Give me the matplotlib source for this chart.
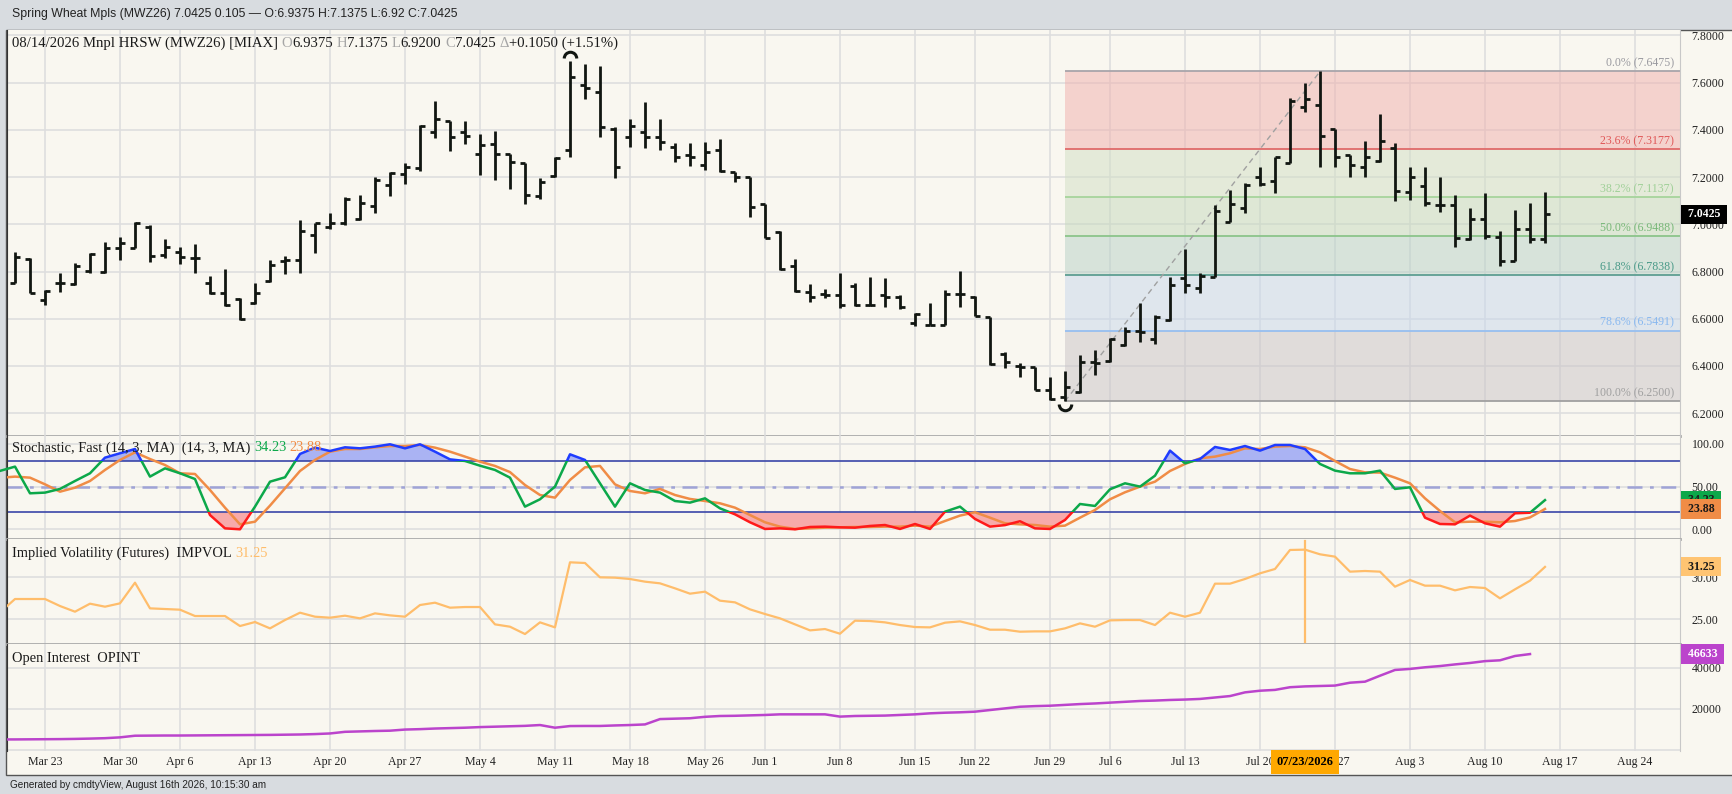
import numpy as np
import pandas as pd
import matplotlib
matplotlib.use("Agg")
import matplotlib.pyplot as plt
import matplotlib.transforms as mtransforms
from matplotlib.collections import LineCollection
from matplotlib.patches import Rectangle
from matplotlib.path import Path

# ---------------- data ----------------
holidays = ["2026-04-03", "2026-05-25", "2026-06-19", "2026-07-03", "2026-09-07"]

# daily bars, Mar 19 .. Aug 14 2026
opens = [6.750, 6.855, 6.679, 6.750, 6.747, 6.802, 6.800, 6.898, 6.898, 6.990,
         6.870, 6.884, 6.856, 6.750, 6.707, 6.682, 6.668, 6.761, 6.846, 6.849,
         6.955, 6.987, 7.007, 7.021, 7.079, 7.166, 7.213, 7.237, 7.392, 7.436,
         7.392, 7.300, 7.340, 7.300, 7.258, 7.120, 7.205, 7.315, 7.590, 7.562,
         7.402, 7.368, 7.392, 7.368, 7.326, 7.293, 7.251, 7.315, 7.223, 7.202,
         7.086, 6.969, 6.823, 6.714, 6.705, 6.700, 6.738, 6.658, 6.700, 6.690,
         6.580, 6.573, 6.573, 6.705, 6.693, 6.606, 6.450, 6.400, 6.397, 6.300,
         6.270, 6.291, 6.418, 6.422, 6.488, 6.549, 6.512, 6.594, 6.771, 6.729,
         6.778, 7.011, 7.068, 7.202, 7.185, 7.261, 7.498, 7.505, 7.402, 7.294,
         7.241, 7.269, 7.322, 7.138, 7.164, 7.082, 7.082, 6.936, 7.021, 6.945,
         6.846, 6.979, 6.9375]
highs = [6.884, 6.856, 6.721, 6.795, 6.834, 6.877, 6.926, 6.947, 7.008, 6.997,
         6.936, 6.905, 6.916, 6.781, 6.809, 6.686, 6.750, 6.849, 6.866, 7.018,
         7.007, 7.046, 7.117, 7.124, 7.202, 7.223, 7.261, 7.421, 7.524, 7.439,
         7.439, 7.382, 7.397, 7.300, 7.261, 7.195, 7.284, 7.693, 7.679, 7.671,
         7.411, 7.445, 7.520, 7.445, 7.346, 7.343, 7.350, 7.360, 7.223, 7.202,
         7.086, 6.973, 6.851, 6.747, 6.724, 6.792, 6.750, 6.775, 6.771, 6.700,
         6.625, 6.665, 6.721, 6.804, 6.697, 6.606, 6.460, 6.414, 6.397, 6.354,
         6.380, 6.446, 6.467, 6.517, 6.566, 6.665, 6.616, 6.778, 6.894, 6.792,
         7.082, 7.145, 7.176, 7.241, 7.286, 7.534, 7.597, 7.6475, 7.402, 7.294,
         7.354, 7.467, 7.346, 7.241, 7.244, 7.200, 7.124, 7.068, 7.134, 6.973,
         7.060, 7.092, 7.1375]
lows = [6.750, 6.707, 6.658, 6.714, 6.743, 6.792, 6.792, 6.849, 6.898, 6.842,
        6.856, 6.832, 6.792, 6.705, 6.654, 6.594, 6.662, 6.757, 6.789, 6.795,
        6.880, 6.979, 6.997, 7.018, 7.046, 7.120, 7.171, 7.227, 7.364, 7.312,
        7.340, 7.209, 7.188, 7.148, 7.086, 7.106, 7.202, 7.284, 7.529, 7.371,
        7.195, 7.329, 7.322, 7.315, 7.265, 7.247, 7.230, 7.223, 7.181, 7.029,
        6.940, 6.806, 6.714, 6.672, 6.686, 6.644, 6.654, 6.654, 6.648, 6.640,
        6.569, 6.573, 6.573, 6.651, 6.611, 6.404, 6.390, 6.354, 6.298, 6.255,
        6.250, 6.284, 6.361, 6.418, 6.484, 6.503, 6.493, 6.592, 6.710, 6.707,
        6.778, 7.010, 7.046, 7.162, 7.134, 7.261, 7.477, 7.244, 7.241, 7.200,
        7.202, 7.265, 7.100, 7.103, 7.079, 7.053, 6.905, 6.933, 6.936, 6.823,
        6.846, 6.922, 6.920]
closes = [6.863, 6.710, 6.718, 6.750, 6.823, 6.874, 6.898, 6.919, 7.004, 6.866,
          6.905, 6.863, 6.856, 6.707, 6.658, 6.597, 6.710, 6.827, 6.849, 6.973,
          7.004, 7.007, 7.106, 7.092, 7.188, 7.219, 7.241, 7.417, 7.446, 7.371,
          7.374, 7.336, 7.300, 7.265, 7.124, 7.181, 7.279, 7.623, 7.576, 7.411,
          7.244, 7.417, 7.368, 7.350, 7.286, 7.286, 7.308, 7.227, 7.200, 7.074,
          6.940, 6.809, 6.718, 6.693, 6.700, 6.658, 6.658, 6.660, 6.690, 6.651,
          6.620, 6.573, 6.705, 6.705, 6.611, 6.408, 6.418, 6.397, 6.300, 6.258,
          6.310, 6.418, 6.411, 6.512, 6.549, 6.545, 6.608, 6.743, 6.743, 6.781,
          7.058, 7.086, 7.166, 7.171, 7.284, 7.524, 7.529, 7.375, 7.284, 7.251,
          7.284, 7.354, 7.142, 7.199, 7.092, 7.082, 6.940, 7.021, 6.950, 6.846,
          6.979, 6.936, 7.0425]

# indicators, Mar 18 .. Aug 14 (first value is the day before the first bar)
stoch_k = [68.4, 73.4, 42.2, 43.0, 47.3, 56.6, 65.6, 83.9, 89.0, 94.0, 61.7,
           71.4, 65.6, 58.9, 16.8, 1.2, 0.1, 26.6, 55.8, 60.9, 88.2,
           95.6, 91.7, 96.0, 94.8, 96.8, 99.5, 94.8, 99.5, 90.9, 81.9,
           80.0, 74.5, 69.5, 60.5, 26.6, 35.2, 50.0, 87.8, 81.2, 53.9,
           26.6, 53.9, 46.1, 43.0, 33.2, 31.3, 36.3, 24.6, 17.6, 8.3,
           0.5, 1.2, 0.1, 2.8, 3.2, 2.4, 2.0, 4.0, 5.1, 0.5,
           6.3, 0.5, 20.7, 26.6, 12.2, 3.2, 5.0, 9.5, 1.2, 0.5,
           11.0, 29.7, 27.4, 46.9, 53.9, 50.0, 62.8, 92.1, 77.3, 82.3,
           96.4, 92.9, 97.5, 92.1, 98.7, 98.7, 94.0, 76.5, 68.7, 65.6,
           65.6, 68.7, 47.3, 49.2, 13.7, 6.3, 5.9, 16.1, 7.1, 3.2,
           18.8, 19.5, 34.23]
stoch_d = [60.3, 61.7, 60.5, 52.7, 44.1, 48.8, 56.6, 69.5, 81.2, 90.1, 82.3,
           75.3, 65.6, 64.8, 46.1, 25.4, 5.9, 9.0, 27.8, 48.0, 68.3,
           81.2, 90.9, 94.0, 94.0, 96.0, 97.5, 97.5, 98.7, 95.6, 90.9,
           85.1, 79.2, 74.2, 67.0, 51.9, 40.2, 37.1, 57.8, 72.6, 74.2,
           52.7, 44.9, 42.2, 47.3, 40.2, 35.6, 33.2, 30.5, 25.4, 16.8,
           8.3, 3.2, 0.5, 1.2, 2.0, 2.4, 2.8, 2.8, 3.2, 3.2,
           4.4, 3.2, 9.8, 16.1, 20.0, 13.7, 7.1, 5.9, 5.1, 3.2,
           4.4, 13.7, 22.7, 35.2, 43.4, 50.0, 55.8, 68.3, 76.5, 83.1,
           85.1, 89.0, 94.8, 94.0, 96.8, 97.5, 96.0, 90.1, 80.0, 70.6,
           66.7, 66.4, 60.5, 53.9, 36.3, 21.5, 8.3, 9.0, 9.0, 8.3,
           9.8, 14.0, 23.88]
impvol = [25.80, 27.40, 27.40, 27.40, 26.56, 25.88, 26.84, 26.48, 26.88, 29.36, 26.28,
          26.20, 26.12, 25.36, 25.36, 25.36, 24.16, 24.64, 23.88, 24.88, 25.76,
          25.28, 25.16, 25.40, 25.08, 25.68, 25.44, 25.28, 26.68, 26.96, 26.36,
          26.44, 26.44, 24.36, 24.08, 23.20, 24.60, 24.00, 31.80, 31.72, 30.00,
          29.96, 29.80, 29.48, 29.28, 28.68, 28.04, 28.28, 27.20, 27.00, 26.16,
          25.60, 25.08, 24.36, 23.64, 23.80, 23.24, 24.80, 24.76, 24.60, 24.28,
          24.04, 24.00, 24.56, 24.72, 24.28, 23.72, 23.72, 23.48, 23.52, 23.52,
          23.88, 24.48, 24.08, 24.84, 24.88, 24.88, 24.28, 25.76, 25.28, 25.76,
          29.24, 29.24, 29.80, 30.48, 31.00, 33.28, 33.32, 32.76, 32.48, 30.68,
          30.76, 30.68, 28.88, 29.68, 29.00, 29.00, 28.44, 28.84, 28.72, 27.48,
          28.56, 29.60, 31.25]
# open interest, Mar 18 .. Aug 13
open_int = [5100, 5100, 5150, 5200, 5250, 5350, 5500, 5700, 6100, 6900, 6950,
            7000, 7000, 7050, 7100, 7150, 7200, 7250, 7300, 7400, 7500,
            7700, 8000, 8800, 9000, 9200, 9350, 9900, 10100, 10400, 10600,
            10800, 11100, 11300, 11500, 11700, 12100, 10800, 11600, 11650, 11650,
            11900, 12100, 12400, 15000, 15200, 15400, 16100, 16500, 16600, 16800,
            17000, 17300, 17300, 17300, 17300, 16200, 16500, 16600, 16700, 17000,
            17300, 17800, 18100, 18300, 18600, 19400, 20200, 21000, 21300, 21500,
            21900, 22300, 22600, 23000, 23400, 23800, 24000, 24300, 24500, 24800,
            25500, 26200, 28000, 28800, 29200, 30500, 30900, 31100, 31300, 32700,
            33200, 36100, 38900, 39400, 40200, 40800, 41600, 42300, 43200, 43600,
            45700, 46633]

fib_pcts = ["0.0%", "23.6%", "38.2%", "50.0%", "61.8%", "78.6%", "100.0%"]
fib_prices = [7.6475, 7.3177, 7.1137, 6.9488, 6.7838, 6.5491, 6.2500]
fib_low_date, fib_high_date = "2026-06-30", "2026-07-24"
cursor_date = "2026-07-23"

header = "Spring Wheat Mpls (MWZ26) 7.0425 0.105 \u2014 O:6.9375 H:7.1375 L:6.92 C:7.0425"
footer = "Generated by cmdtyView, August 16th 2026, 10:15:30 am"

# ---------------- style ----------------
SERIF = "Liberation Serif"
SANS = "Liberation Sans"
plt.rcParams["font.family"] = [SERIF, "DejaVu Serif"]
CREAM = "#f9f7f0"
GRAYBG = "#d8dce0"
GRID = "#dedede"
BAR = "#111611"
GREEN, BLUE, RED, ORANGE = "#0ca84a", "#1f3cff", "#ff1a1a", "#f08c46"
IVC = "#ffbd6b"
OIC = "#bb44cc"
TXT = "#1a1a1a"
TICKFS = 8.6
LABFS = 10.6

W, H = 1733, 794
fig = plt.figure(figsize=(W / 100, H / 100), dpi=100, facecolor=GRAYBG)

def fx(px):
    return px / W

def fy(py):
    return 1 - py / H

fig.patches.append(Rectangle((fx(6.5), fy(775)), fx(W) - fx(6.5), (775 - 29.5) / H,
                             transform=fig.transFigure, fc=CREAM, ec="#555555", lw=1, zorder=-10))

XL, XR = 7, 1680

def add_ax(top, bottom):
    a = fig.add_axes([fx(XL), fy(bottom), fx(XR) - fx(XL), (bottom - top) / H])
    a.set_facecolor(CREAM)
    return a

ax_p = add_ax(30, 435.5)
ax_s = add_ax(435.5, 539.3)
ax_v = add_ax(539.3, 644.3)
ax_o = add_ax(644.3, 751)
axes = [ax_p, ax_s, ax_v, ax_o]

# ---------------- dates / x positions ----------------
days = pd.bdate_range("2026-03-18", "2026-09-04")
days = days[~days.isin(pd.to_datetime(holidays))]
xpos_all = np.arange(len(days)) - 1           # Mar 18 -> -1, Mar 19 -> 0
xmin, xmax = -0.533, 111.0
wk = days.isocalendar().week.values
starts = [i for i in range(1, len(days)) if wk[i] != wk[i - 1]]
tick_x = [xpos_all[i] for i in starts if xmin < xpos_all[i] < xmax]
tick_lab = [f"{days[i]:%b} {days[i].day}" for i in starts if xmin < xpos_all[i] < xmax]

def xof(datestr):
    return int(xpos_all[list(days).index(pd.Timestamp(datestr))])

for a in axes:
    a.set_xlim(xmin, xmax)
    a.set_xticks(tick_x)
    a.grid(True, color=GRID, lw=1.2, zorder=0)
    a.set_axisbelow(True)
    a.yaxis.tick_right()
    a.tick_params(axis="y", length=0, pad=8.4, labelsize=TICKFS, labelcolor="#222222")
    a.tick_params(axis="x", length=0, labelbottom=False)
    for s in ["top", "bottom"]:
        a.spines[s].set_visible(False)
    a.spines["left"].set_color("#333333")
    a.spines["right"].set_color("#c8c8c8")
for a in [ax_p, ax_s, ax_v]:
    a.spines["bottom"].set_visible(True)
    a.spines["bottom"].set_color("#aaaaaa")
    a.spines["bottom"].set_linewidth(2)
ax_o.tick_params(axis="x", labelbottom=True, labelsize=TICKFS, pad=3.6, labelcolor="#222222")
ax_o.set_xticklabels(tick_lab)

# ---------------- price panel ----------------
xb = np.arange(len(closes))
tk = 0.33
segs = []
for xi, o, h, l, c in zip(xb, opens, highs, lows, closes):
    segs.append([(xi, l), (xi, h)])
    segs.append([(xi - tk, o), (xi, o)])
    segs.append([(xi, c), (xi + tk, c)])
ax_p.add_collection(LineCollection(segs, colors=BAR, linewidths=2.0, capstyle="butt", zorder=5))
ax_p.set_ylim(6.1051, 7.8233)
pt = [6.2, 6.4, 6.6, 6.8, 7.0, 7.2, 7.4, 7.6, 7.8]
ax_p.set_yticks(pt)
ax_p.set_yticklabels([f"{v:.4f}" for v in pt])

# fib retracement
fx0, fx1 = xof(fib_low_date), xof(fib_high_date)
zone_cols = ["#f1afac", "#d1dfc4", "#c5d9bc", "#b7d1c6", "#c7d7ec", "#c9c3c6"]
line_cols = ["#a8a4aa", "#e06a6a", "#a6d49c", "#8cc48a", "#5e9e92", "#96bff0", "#a0a0a0"]
lab_cols = ["#9a9aa0", "#e05858", "#a0d098", "#78b878", "#4a9a88", "#88b8f0", "#a0a0a0"]
for j in range(len(fib_prices) - 1):
    ax_p.fill_between([fx0, xmax], fib_prices[j + 1], fib_prices[j], color=zone_cols[j],
                      alpha=0.5, lw=0, zorder=1)
trans_p = mtransforms.blended_transform_factory(ax_p.transAxes, ax_p.transData)
for j, (pc, pv) in enumerate(zip(fib_pcts, fib_prices)):
    ax_p.hlines(pv, fx0, xmax, color=line_cols[j], lw=1.3, zorder=2)
    ax_p.annotate(f"{pc} ({pv:.4f})", xy=(1, pv), xycoords=trans_p, xytext=(-6, 2.5),
                  textcoords="offset pixels", ha="right", va="bottom", fontsize=TICKFS,
                  color=lab_cols[j], zorder=3)
ax_p.plot([fx0, fx1], [fib_prices[-1], fib_prices[0]], color="#a0a0a0", lw=1,
          ls=(0, (4, 3)), zorder=3)

# extreme markers
ihi, ilo = int(np.argmax(highs)), int(np.argmin(lows))
top_arc = Path.arc(0, 180)
bot_arc = Path.arc(180, 360)
ax_p.plot([ihi], [highs[ihi] + 0.012], marker=top_arc, ms=9, mfc="none", mec=BAR, mew=2.2, zorder=6)
ax_p.plot([ilo], [lows[ilo] - 0.012], marker=bot_arc, ms=9, mfc="none", mec=BAR, mew=2.2, zorder=6)

# ---------------- stochastic ----------------
xi_ind = np.arange(len(stoch_k)) - 1
k = np.array(stoch_k)
d = np.array(stoch_d)
ax_s.set_ylim(-11.6, 109.8)
ax_s.set_yticks([0, 50, 100])
ax_s.set_yticklabels(["0.00", "50.00", "100.00"])
ax_s.fill_between(xi_ind, k, 80, where=k >= 80, interpolate=True, color="#aab3f3", lw=0, zorder=2)
ax_s.fill_between(xi_ind, k, 20, where=k <= 20, interpolate=True, color="#f7aaaa", lw=0, zorder=2)
ax_s.axhline(80, color="#3a46a8", lw=1.2, zorder=2.5)
ax_s.axhline(20, color="#3a46a8", lw=1.2, zorder=2.5)
ax_s.axhline(50, color="#9fa3d6", lw=1.8, ls=(0, (6, 3, 1.5, 3)), zorder=2.5)
ax_s.plot(xi_ind, d, color=ORANGE, lw=1.8, zorder=4)
for col, (y0, y1) in [(GREEN, (20, 80)), (BLUE, (80, 300)), (RED, (-300, 20))]:
    ln, = ax_s.plot(xi_ind, k, color=col, lw=1.8, zorder=5)
    ln.set_clip_path(Rectangle((-10, y0), 200, y1 - y0, transform=ax_s.transData))

# ---------------- implied vol ----------------
ax_v.set_ylim(21.97, 34.56)
ax_v.set_yticks([25, 30])
ax_v.set_yticklabels(["25.00", "30.00"])
ax_v.plot(xi_ind, impvol, color=IVC, lw=1.6, zorder=4)
ax_v.axvline(xof(cursor_date), ymin=0.02, ymax=0.98, color=IVC, lw=1.6, zorder=4)

# ---------------- open interest ----------------
xo = np.arange(len(open_int)) - 1
ax_o.set_ylim(-535, 51387)
ax_o.set_yticks([0, 20000, 40000])
ax_o.set_yticklabels(["", "20000", "40000"])
ax_o.plot(xo, open_int, color=OIC, lw=1.8, zorder=4)

# ---------------- value boxes on right axis ----------------
def value_box(a, val, text, fc, tc):
    tr = mtransforms.blended_transform_factory(a.transAxes, a.transData)
    a.annotate(text, xy=(1, val), xycoords=tr, xytext=(5, 0), textcoords="offset pixels",
               ha="left", va="center", fontsize=TICKFS, fontweight="bold", color=tc,
               bbox=dict(boxstyle="square,pad=0.3", fc=fc, ec="none"), zorder=20,
               annotation_clip=False)

value_box(ax_p, closes[-1], f" {closes[-1]:.4f} ", "black", "white")
value_box(ax_s, stoch_k[-1], f" {stoch_k[-1]:.2f} ", GREEN, TXT)
value_box(ax_s, stoch_d[-1], f" {stoch_d[-1]:.2f} ", ORANGE, TXT)
value_box(ax_v, impvol[-1], f" {impvol[-1]:.2f} ", "#ffc472", TXT)
value_box(ax_o, open_int[-1], f" {open_int[-1]} ", OIC, "white")

# highlighted cursor date on x axis
tr_o = mtransforms.blended_transform_factory(ax_o.transData, ax_o.transAxes)
ax_o.text(xof(cursor_date), -(762 - 751) / (751 - 644.3), pd.Timestamp(cursor_date).strftime("%m/%d/%Y"),
          transform=tr_o, ha="center", va="center", fontsize=TICKFS + 0.4, fontweight="bold",
          color="black", bbox=dict(boxstyle="square,pad=0.45", fc="#ffa800", ec="none"), zorder=20)

# ---------------- panel titles ----------------
def chain(a, x_px, y_frac_from_top, segments, size):
    tr = a.transAxes
    bb_h = a.get_position().height * H
    y = 1 - y_frac_from_top / bb_h
    xa = (x_px - XL) / (XR - XL)
    prev = None
    for s, col, gap in segments:
        if prev is None:
            prev = a.text(xa, y, s, transform=tr, color=col, fontsize=size, ha="left", va="center", zorder=30)
        else:
            prev = a.annotate(s, xy=(1, 0.5), xycoords=prev, xytext=(gap, 0), textcoords="offset pixels",
                              color=col, fontsize=size, ha="left", va="center", zorder=30)

GR = "#a6a6a6"
sp = 3.6
chain(ax_p, 12, 13, [("08/14/2026 Mnpl HRSW (MWZ26) [MIAX]", TXT, 0), ("O", GR, sp), ("6.9375", TXT, 0),
                     ("H", GR, sp), ("7.1375", TXT, 0), ("L", GR, sp), ("6.9200", TXT, 0),
                     ("C", GR, sp), ("7.0425", TXT, 0), ("\u0394", GR, sp), ("+0.1050 (+1.51%)", TXT, 0)], LABFS)
chain(ax_s, 12, 12.5, [("Stochastic, Fast (14, 3, MA)  (14, 3, MA)", TXT, 0),
                       (f"{stoch_k[-1]:.2f}", GREEN, sp), (f"{stoch_d[-1]:.2f}", ORANGE, sp)], 10.4)
chain(ax_v, 12, 14, [("Implied Volatility (Futures)  IMPVOL", TXT, 0), (f"{impvol[-1]:.2f}", IVC, sp)], 10.4)
chain(ax_o, 12, 14, [("Open Interest  OPINT", TXT, 0)], 10.4)

fig.text(fx(12), fy(13.5), header, family=SANS, fontsize=8.8, color="#222222", ha="left", va="center")
fig.text(fx(10), fy(785), footer, family=SANS, fontsize=7.2, color="#222222", ha="left", va="center")

fig.savefig("out.png", dpi=100, facecolor=GRAYBG)
